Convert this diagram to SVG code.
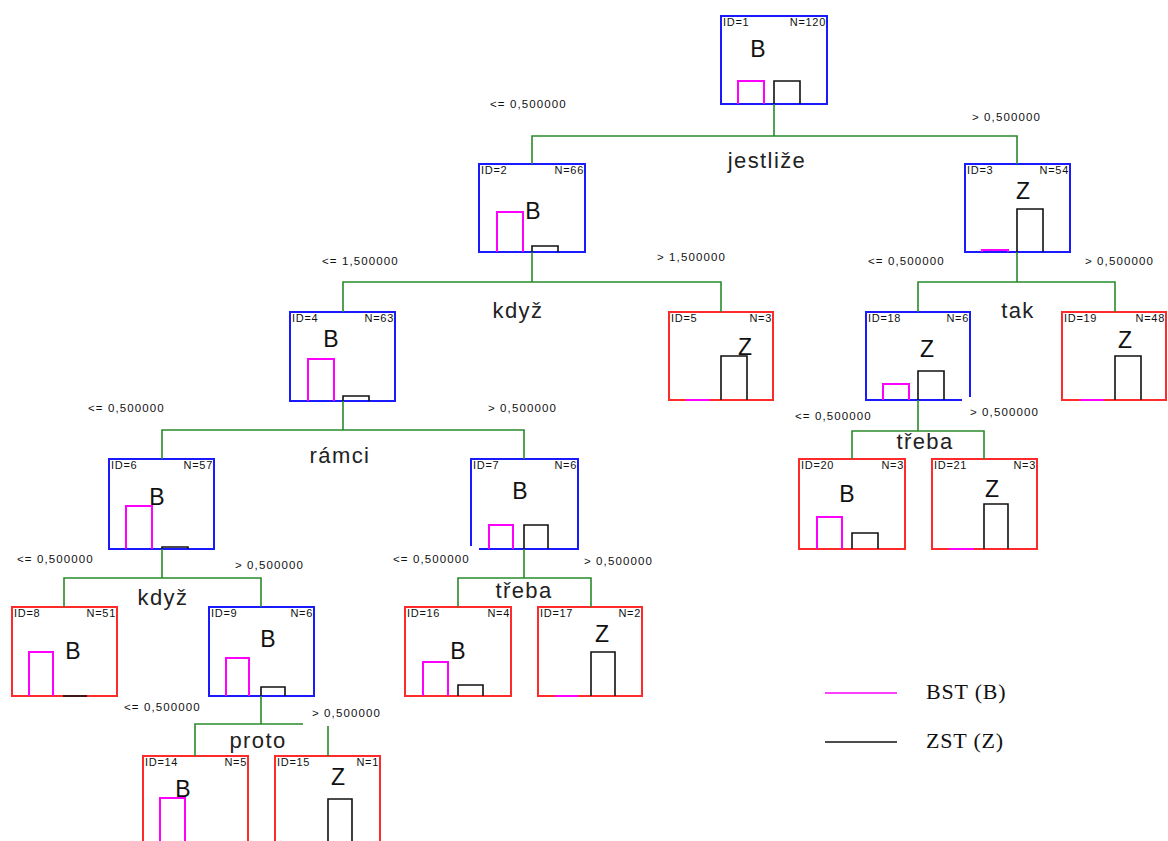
<svg xmlns="http://www.w3.org/2000/svg" width="1168" height="841" viewBox="0 0 1168 841">
<style>
.bb{fill:none;stroke:#1a1aff;stroke-width:2}
.rb{fill:none;stroke:#ff2a2a;stroke-width:2}
.mg{fill:none;stroke:#ff00ff;stroke-width:2}
.bk{fill:none;stroke:#111;stroke-width:1.6}
.cn{fill:none;stroke:#2a8a2a;stroke-width:1.6}
.sm{font-family:"Liberation Sans",Arial,sans-serif;font-size:11px;fill:#111;letter-spacing:0.7px}
.br{font-family:"Liberation Sans",Arial,sans-serif;font-size:11.5px;fill:#111;letter-spacing:1.1px}
.lt{font-family:"Liberation Sans",Arial,sans-serif;font-size:23px;fill:#111;text-anchor:middle}
.sp{font-family:"Liberation Sans",Arial,sans-serif;font-size:22px;fill:#222;text-anchor:middle;letter-spacing:1.4px}
.lg{font-family:"Liberation Serif","Times New Roman",serif;font-size:22px;fill:#111;letter-spacing:0.8px}
.nr{text-anchor:end}
</style>
<rect width="1168" height="841" fill="#fff"/>
<g id="n1"><rect class="bb" x="721" y="16" width="106" height="88"/><path class="mg" d="M738,104V81H764V104"/><path class="bk" d="M774,104V81H800V104"/><text class="sm" x="723" y="26">ID=1</text><text class="sm nr" x="826" y="26">N=120</text><text class="lt" x="758" y="57">B</text></g>
<g id="n2"><rect class="bb" x="479" y="164" width="106" height="88"/><path class="mg" d="M497,252V212H523V252"/><path class="bk" d="M532,252V246H558V252"/><text class="sm" x="481" y="174">ID=2</text><text class="sm nr" x="584" y="174">N=66</text><text class="lt" x="533" y="219">B</text></g>
<g id="n3"><rect class="bb" x="965" y="164" width="105" height="88"/><path class="mg" d="M982,252V250H1008V252"/><path class="bk" d="M1017,252V209H1043V252"/><text class="sm" x="967" y="174">ID=3</text><text class="sm nr" x="1069" y="174">N=54</text><text class="lt" x="1023" y="199">Z</text></g>
<g id="n4"><rect class="bb" x="290" y="312" width="105" height="89"/><path class="mg" d="M308,401V359H334V401"/><path class="bk" d="M343,401V396H369V401"/><text class="sm" x="292" y="322">ID=4</text><text class="sm nr" x="394" y="322">N=63</text><text class="lt" x="331" y="347">B</text></g>
<g id="n5"><rect class="rb" x="669" y="312" width="104" height="88"/><path class="mg" d="M686,400H710"/><path class="bk" d="M721,400V356H747V400"/><text class="sm" x="671" y="322">ID=5</text><text class="sm nr" x="772" y="322">N=3</text><text class="lt" x="745" y="355">Z</text></g>
<g id="n18"><path class="bb" d="M962,400H866V312H970V397"/><path class="mg" d="M883,400V384H909V400"/><path class="bk" d="M918,400V371H944V400"/><text class="sm" x="868" y="322">ID=18</text><text class="sm nr" x="969" y="322">N=6</text><text class="lt" x="927" y="357">Z</text></g>
<g id="n19"><rect class="rb" x="1062" y="312" width="104" height="88"/><path class="mg" d="M1080,400H1104"/><path class="bk" d="M1115,400V356H1141V400"/><text class="sm" x="1064" y="322">ID=19</text><text class="sm nr" x="1165" y="322">N=48</text><text class="lt" x="1125" y="348">Z</text></g>
<g id="n6"><rect class="bb" x="109" y="459" width="105" height="90"/><path class="mg" d="M126,549V506H152V549"/><path class="bk" d="M162,549V547H188V549"/><text class="sm" x="111" y="469">ID=6</text><text class="sm nr" x="213" y="469">N=57</text><text class="lt" x="157" y="505">B</text></g>
<g id="n7"><path class="bb" d="M471,546V459H578V549H479"/><path class="mg" d="M489,549V525H513V549"/><path class="bk" d="M524,549V525H548V549"/><text class="sm" x="473" y="469">ID=7</text><text class="sm nr" x="577" y="469">N=6</text><text class="lt" x="520" y="499">B</text></g>
<g id="n20"><rect class="rb" x="799" y="459" width="106" height="90"/><path class="mg" d="M817,549V517H842V549"/><path class="bk" d="M852,549V533H878V549"/><text class="sm" x="801" y="469">ID=20</text><text class="sm nr" x="904" y="469">N=3</text><text class="lt" x="847" y="502">B</text></g>
<g id="n21"><rect class="rb" x="932" y="459" width="105" height="90"/><path class="mg" d="M949,549H974"/><path class="bk" d="M984,549V504H1008V549"/><text class="sm" x="934" y="469">ID=21</text><text class="sm nr" x="1036" y="469">N=3</text><text class="lt" x="992" y="497">Z</text></g>
<g id="n8"><rect class="rb" x="12" y="607" width="105" height="89"/><path class="mg" d="M29,696V652H53V696"/><path class="bk" d="M63,696H87"/><text class="sm" x="14" y="617">ID=8</text><text class="sm nr" x="116" y="617">N=51</text><text class="lt" x="73" y="659">B</text></g>
<g id="n9"><rect class="bb" x="209" y="607" width="105" height="89"/><path class="mg" d="M226,696V658H249V696"/><path class="bk" d="M261,696V687H285V696"/><text class="sm" x="211" y="617">ID=9</text><text class="sm nr" x="313" y="617">N=6</text><text class="lt" x="268" y="647">B</text></g>
<g id="n16"><rect class="rb" x="405" y="607" width="106" height="89"/><path class="mg" d="M423,696V662H448V696"/><path class="bk" d="M458,696V685H483V696"/><text class="sm" x="407" y="617">ID=16</text><text class="sm nr" x="510" y="617">N=4</text><text class="lt" x="458" y="659">B</text></g>
<g id="n17"><rect class="rb" x="538" y="607" width="104" height="89"/><path class="mg" d="M555,696H578"/><path class="bk" d="M591,696V652H615V696"/><text class="sm" x="540" y="617">ID=17</text><text class="sm nr" x="641" y="617">N=2</text><text class="lt" x="602" y="642">Z</text></g>
<g id="n14"><rect class="rb" x="143" y="756" width="105" height="100"/><path class="mg" d="M160,860V798H185V860"/><text class="sm" x="145" y="766">ID=14</text><text class="sm nr" x="247" y="766">N=5</text><text class="lt" x="183" y="797">B</text></g>
<g id="n15"><rect class="rb" x="275" y="756" width="105" height="100"/><path class="bk" d="M328,860V799H352V860"/><text class="sm" x="277" y="766">ID=15</text><text class="sm nr" x="379" y="766">N=1</text><text class="lt" x="338" y="785">Z</text></g>
<g id="connectors">
<path class="cn" d="M774,104V136M532,164V136H1017V164"/>
<path class="cn" d="M532,252V282M343,312V282H721V312"/>
<path class="cn" d="M1017,252V282M918,312V282H1115V312"/>
<path class="cn" d="M343,401V430M162,459V430H524V459"/>
<path class="cn" d="M918,400V431M852,459V431H984V459"/>
<path class="cn" d="M162,549V578M64,607V578H261V607"/>
<path class="cn" d="M524,549V578M458,607V578H591V607"/>
<path class="cn" d="M261,696V724M195,756V724H303M328,726V756"/>
</g>
<g id="split-labels">
<text class="sp" x="767" y="168">jestliže</text>
<text class="sp" x="518" y="318">když</text>
<text class="sp" x="1018" y="318">tak</text>
<text class="sp" x="340" y="463">rámci</text>
<text class="sp" x="925" y="449">třeba</text>
<text class="sp" x="163" y="605">když</text>
<text class="sp" x="524" y="598">třeba</text>
<text class="sp" x="258" y="748">proto</text>
</g>
<g id="branch-labels">
<text class="br" x="490" y="108">&lt;= 0,500000</text>
<text class="br" x="972" y="121">&gt; 0,500000</text>
<text class="br" x="322" y="265">&lt;= 1,500000</text>
<text class="br" x="657" y="261">&gt; 1,500000</text>
<text class="br" x="868" y="265">&lt;= 0,500000</text>
<text class="br" x="1085" y="265">&gt; 0,500000</text>
<text class="br" x="88" y="412">&lt;= 0,500000</text>
<text class="br" x="488" y="412">&gt; 0,500000</text>
<text class="br" x="795" y="420">&lt;= 0,500000</text>
<text class="br" x="970" y="416">&gt; 0,500000</text>
<text class="br" x="17" y="563">&lt;= 0,500000</text>
<text class="br" x="235" y="569">&gt; 0,500000</text>
<text class="br" x="393" y="563">&lt;= 0,500000</text>
<text class="br" x="584" y="565">&gt; 0,500000</text>
<text class="br" x="124" y="711">&lt;= 0,500000</text>
<text class="br" x="312" y="717">&gt; 0,500000</text>
</g>
<g id="legend">
<line x1="825" y1="693" x2="897" y2="693" stroke="#ff00ff" stroke-width="1.5"/>
<text class="lg" x="926" y="699">BST (B)</text>
<line x1="825" y1="742" x2="897" y2="742" stroke="#111" stroke-width="1.5"/>
<text class="lg" x="926" y="748">ZST (Z)</text>
</g>
</svg>
